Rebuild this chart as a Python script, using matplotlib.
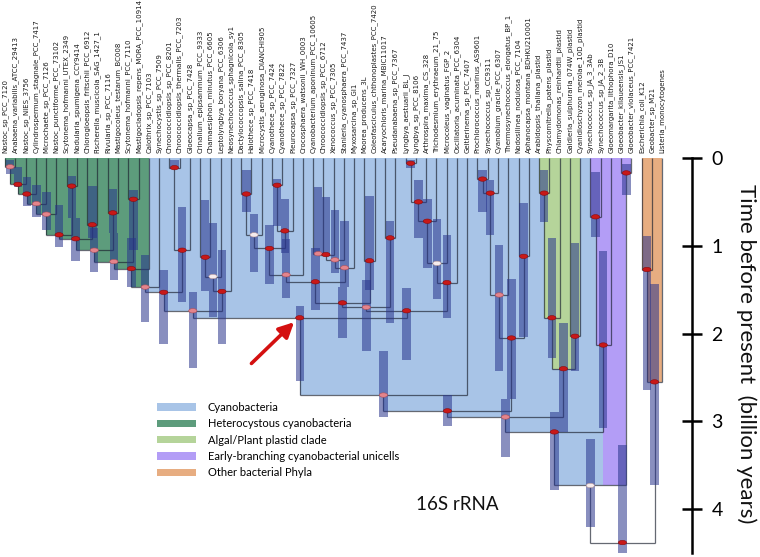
import matplotlib
matplotlib.use("Agg")
import matplotlib.pyplot as plt
from matplotlib.patches import Rectangle, Ellipse, Patch

plt.rcParams['font.family'] = ['Lato', 'DejaVu Sans']

# tips, left to right
taxa = [
    'Nostoc_sp_PCC_7120', 'Anabaena_variabilis_ATCC_29413', 'Nostoc_sp_NIES_3756',
    'Cylindrospermum_stagnale_PCC_7417', 'Microchaete_sp_PCC_7126', 'Nostoc_punctiforme_PCC_73102',
    'Scytonema_hofmanni_UTEX_2349', 'Nodularia_spumigena_CCY9414', 'Chlorogloeopsis_fritschii_PCC_6912',
    'Fischerella_muscicola_SAG_1427_1', 'Rivularia_sp_PCC_7116', 'Mastigocoleus_testarum_BC008',
    'Scytonema_hofmanni_PCC_7110', 'Mastigocladopsis_repens_MORA_PCC_10914', 'Calothrix_sp_PCC_7103',
    'Synechocystis_sp_PCC_7509', 'Chroococcidiopsis_sp_PCC_8201', 'Chroococcidiopsis_thermalis_PCC_7203',
    'Gloeocapsa_sp_PCC_7428', 'Crinalium_epipsammum_PCC_9333', 'Chamaesiphon_minutus_PCC_6605',
    'Leptolyngbya_boryana_PCC_6306', 'Neosynechococcus_sphagnicola_sy1', 'Dactylococcopsis_salina_PCC_8305',
    'Halothece_sp_PCC_7418', 'Microcystis_aeruginosa_DIANCHI905', 'Cyanothece_sp_PCC_7424',
    'Cyanothece_sp_PCC_7822', 'Pleurocapsa_sp_PCC_7327', 'Crocosphaera_watsonii_WH_0003',
    'Cyanobacterium_aponinum_PCC_10605', 'Chroococcidiopsis_sp_PCC_6712', 'Xenococcus_sp_PCC_7305',
    'Stanieria_cyanosphaera_PCC_7437', 'Myxosarcina_sp_GI1', 'Moorea_producens_3L',
    'Coleofasciculus_chthonoplastes_PCC_7420', 'Acaryochloris_marina_MBIC11017', 'Pseudanabaena_sp_PCC_7367',
    'Lyngbya_aestuarii_BL_J', 'Lyngbya_sp_PCC_8106', 'Arthrospira_maxima_CS_328',
    'Trichodesmium_erythraeum_21_75', 'Microcoleus_vaginatus_FGP_2', 'Oscillatoria_acuminata_PCC_6304',
    'Geitlerinema_sp_PCC_7407', 'Prochlorococcus_marinus_AS9601', 'Synechococcus_sp_CC9311',
    'Cyanobium_gracile_PCC_6307', 'Thermosynechococcus_elongatus_BP_1', 'Nodosilinea_nodulosa_PCC_7104',
    'Aphanocapsa_montana_BDHKU210001', 'Arabidopsis_thaliana_plastid', 'Physcomitrella_patens_plastid',
    'Chlamydomonas_reinhardtii_plastid', 'Galdieria_sulphuraria_074W_plastid', 'Cyanidioschyzon_merolae_10D_plastid',
    'Synechococcus_sp_JA_3_3Ab', 'Synechococcus_sp_JA_2_3B', 'Gloeomargarita_lithophora_D10',
    'Gloeobacter_kilaueensis_JS1', 'Gloeobacter_violaceus_PCC_7421', 'Escherichia_coli_K12',
    'Geobacter_sp_M21', 'Listeria_monocytogenes',
]

# internal nodes: name, left child, right child, age (Gyr), 95% HPD low, high, posterior class
nodes = [
    ('h1', 0, 1, 0.10, 0.02, 0.18, 'mid'),
    ('h2', 'h1', 2, 0.30, 0.10, 0.33, 'high'),
    ('h3', 'h2', 3, 0.41, 0.22, 0.55, 'high'),
    ('h4', 'h3', 4, 0.52, 0.31, 0.67, 'mid'),
    ('h5', 'h4', 5, 0.64, 0.39, 0.82, 'mid'),
    ('h6', 6, 7, 0.32, 0.20, 0.68, 'high'),
    ('h7', 'h5', 'h6', 0.875, 0.53, 1.01, 'high'),
    ('h8', 8, 9, 0.76, 0.32, 0.91, 'high'),
    ('h9', 'h7', 'h8', 0.92, 0.68, 1.17, 'high'),
    ('h10', 10, 11, 0.625, 0.35, 0.85, 'high'),
    ('h11', 'h9', 'h10', 1.05, 0.80, 1.30, 'mid'),
    ('h12', 12, 13, 0.47, 0.36, 1.05, 'high'),
    ('h13', 'h11', 'h12', 1.18, 0.85, 1.39, 'mid'),
    ('h14', 'h13', 14, 1.26, 0.91, 1.47, 'high'),
    ('h15', 'h14', 15, 1.47, 1.10, 1.87, 'mid'),
    ('b1', 16, 17, 0.11, 0.02, 0.12, 'high'),
    ('b2', 'b1', 18, 1.05, 0.56, 1.64, 'high'),
    ('b3', 'h15', 'b2', 1.53, 1.27, 2.12, 'high'),
    ('b4', 19, 20, 1.13, 0.48, 1.52, 'high'),
    ('b5', 'b4', 21, 1.35, 0.74, 1.81, 'low'),
    ('b6', 'b5', 22, 1.52, 1.05, 2.12, 'high'),
    ('b7', 'b3', 'b6', 1.74, 1.53, 2.39, 'mid'),
    ('b8', 23, 24, 0.41, 0.14, 0.61, 'high'),
    ('b9', 'b8', 25, 0.875, 0.64, 1.30, 'low'),
    ('b10', 26, 27, 0.31, 0.24, 0.78, 'high'),
    ('b11', 'b10', 28, 0.83, 0.47, 1.08, 'high'),
    ('b12', 'b9', 'b11', 1.03, 0.76, 1.44, 'high'),
    ('b13', 'b12', 29, 1.33, 0.92, 1.60, 'mid'),
    ('b14', 30, 31, 1.09, 0.33, 1.10, 'mid'),
    ('b15', 'b14', 32, 1.10, 0.44, 1.12, 'high'),
    ('b16', 'b15', 33, 1.16, 0.59, 1.31, 'mid'),
    ('b17', 'b16', 34, 1.25, 0.72, 1.47, 'mid'),
    ('b18', 'b13', 'b17', 1.41, 1.03, 1.73, 'high'),
    ('b19', 35, 36, 1.17, 0.43, 1.50, 'high'),
    ('b20', 'b18', 'b19', 1.65, 1.47, 2.05, 'high'),
    ('b21', 37, 38, 0.91, 0.72, 1.88, 'high'),
    ('b22', 'b20', 'b21', 1.70, 1.39, 2.20, 'mid'),
    ('b23', 39, 40, 0.06, 0.02, 0.11, 'high'),
    ('b24', 'b23', 41, 0.50, 0.25, 0.91, 'high'),
    ('b25', 'b24', 42, 0.72, 0.47, 1.25, 'high'),
    ('b26', 'b25', 43, 1.20, 0.70, 1.61, 'low'),
    ('b27', 'b26', 44, 1.42, 0.88, 1.82, 'high'),
    ('b28', 'b22', 'b27', 1.74, 1.48, 2.30, 'high'),
    ('b29', 'b7', 'b28', 1.82, 1.69, 2.54, 'high'),
    ('b30', 'b29', 45, 2.70, 2.20, 2.95, 'mid'),
    ('b31', 46, 47, 0.24, 0.14, 0.61, 'high'),
    ('b32', 'b31', 48, 0.40, 0.25, 0.88, 'high'),
    ('b33', 'b32', 49, 1.56, 0.99, 2.43, 'mid'),
    ('b34', 50, 51, 1.12, 0.51, 2.04, 'high'),
    ('b35', 'b33', 'b34', 2.05, 1.38, 2.75, 'high'),
    ('b36', 'b30', 'b35', 2.88, 2.70, 3.05, 'high'),
    ('p1', 52, 53, 0.40, 0.14, 0.73, 'high'),
    ('p2', 'p1', 54, 1.82, 0.91, 2.28, 'high'),
    ('p3', 55, 56, 2.03, 0.97, 2.43, 'high'),
    ('p4', 'p2', 'p3', 2.40, 1.88, 3.12, 'high'),
    ('b37', 'b36', 'p4', 2.95, 2.75, 3.40, 'mid'),
    ('e1', 57, 58, 0.67, 0.16, 0.90, 'high'),
    ('e2', 'e1', 59, 2.13, 1.06, 3.07, 'high'),
    ('b38', 'b37', 'e2', 3.12, 2.89, 3.78, 'high'),
    ('e3', 60, 61, 0.17, 0.07, 0.42, 'high'),
    ('c0', 'b38', 'e3', 3.73, 3.20, 4.20, 'low'),
    ('o1', 62, 63, 1.27, 0.89, 2.64, 'high'),
    ('o2', 'o1', 64, 2.55, 1.44, 3.72, 'high'),
    ('root', 'c0', 'o2', 4.38, 3.27, 4.50, 'high'),
]

# shaded groups (node boxes filled with the group colour)
group_names = ['Cyanobacteria', 'Heterocystous cyanobacteria', 'Algal/Plant plastid clade',
               'Early-branching cyanobacterial unicells', 'Other bacterial Phyla']
group_colors = ['#a8c4e7', '#5d9c7c', '#b5d49a', '#b39df6', '#e7ad81']
group_nodes = [
    ['b%d' % i for i in range(1, 39)],
    ['h%d' % i for i in range(1, 15)],
    ['p1', 'p2', 'p3', 'p4'],
    ['e1', 'e2', 'e3'],
    ['o1', 'o2'],
]
# boxes that change colour part way: node -> (left group, split at, right group)
split_boxes = {'h15': (1, 14, 0), 'c0': (0, 'e2', 3)}

support_colors = {'high': ('#c81818', '#8c0a0a'), 'mid': ('#e4848c', '#b05058'),
                  'low': ('#f6eced', '#b89898')}

# ---- layout of the tree
info = {n[0]: n for n in nodes}
xpos = {}


def getx(k):
    if isinstance(k, int):
        return float(k)
    if k not in xpos:
        n = info[k]
        xpos[k] = (getx(n[1]) + getx(n[2])) / 2.0
    return xpos[k]


def getage(k):
    return 0.0 if isinstance(k, int) else info[k][3]


fig = plt.figure(figsize=(7.6, 5.57), dpi=100)
ax = fig.add_axes([0, 0, 1, 1])
ax.set_xlim(-5 / 10.27, 755 / 10.27)
ax.set_ylim((557 - 158) / 87.8, -158 / 87.8)
ax.axis('off')

node_group = {}
for g, lst in enumerate(group_nodes):
    for k in lst:
        node_group[k] = g
for k, v in split_boxes.items():
    node_group[k] = v[0]

# coloured clade boxes, deepest first
for n in sorted(nodes, key=lambda n: -n[3]):
    name = n[0]
    if name not in node_group:
        continue
    xl, xr, age = getx(n[1]), getx(n[2]), n[3]
    if name in split_boxes:
        g1, at, g2 = split_boxes[name]
        xb = getx(at)
        ax.add_patch(Rectangle((xl, 0), xb - xl, age, fc=group_colors[g1], ec='none', zorder=1))
        ax.add_patch(Rectangle((xb, 0), xr - xb, age, fc=group_colors[g2], ec='none', zorder=1))
    else:
        ax.add_patch(Rectangle((xl, 0), xr - xl, age, fc=group_colors[node_group[name]],
                               ec='none', zorder=1))

# branches
for n in nodes:
    age = n[3]
    for c in (n[1], n[2]):
        ax.plot([getx(c), getx(c)], [getage(c), age], color='#1c2230', alpha=0.68,
                lw=0.9, zorder=2, solid_capstyle='butt')
    ax.plot([getx(n[1]), getx(n[2])], [age, age], color='#1c2230', alpha=0.68,
            lw=0.9, zorder=2, solid_capstyle='butt')

# 95% HPD bars
for n in nodes:
    x = getx(n[0])
    ax.add_patch(Rectangle((x - 0.41, n[4]), 0.82, n[5] - n[4], fc='#28348c', alpha=0.55,
                           ec='none', zorder=3))

# node markers
for n in nodes:
    fc, ec = support_colors[n[6]]
    ax.add_patch(Ellipse((getx(n[0]), n[3]), 0.8, 0.05, fc=fc, ec=ec, lw=0.4, zorder=4))

# tip labels
for i, t in enumerate(taxa):
    ax.text(i, -0.06, t, rotation=90, ha='center', va='bottom', fontsize=5,
            family='DejaVu Sans', color='#1a1a1a')

# arrow to the crown node
ax_x, ax_y = getx('b29'), info['b29'][3]
ax.annotate('', xy=(ax_x - 0.55, ax_y + 0.05), xytext=(ax_x - 4.7, ax_y + 0.52),
            arrowprops=dict(arrowstyle='-|>,head_length=0.9,head_width=0.45',
                            color='#d41010', lw=2.6, shrinkA=0, shrinkB=0), zorder=6)

ax.text(44.0, 3.95, '16S rRNA', fontsize=13.5, ha='center', va='center', color='#111111')

handles = [Patch(fc=c, ec='none') for c in group_colors]
ax.legend(handles, group_names, loc='upper left', bbox_to_anchor=(157 / 760, 1 - 402 / 557),
          frameon=False, fontsize=8, handlelength=3.5, handleheight=0.65,
          handletextpad=1.05, labelspacing=0.48, borderpad=0, borderaxespad=0)

# time scale
sax = fig.add_axes([692 / 760, 0, 1e-4, 1])
sax.set_ylim(ax.get_ylim())
sax.patch.set_visible(False)
for s in ('top', 'right', 'bottom'):
    sax.spines[s].set_visible(False)
sax.spines['left'].set_linewidth(1.8)
sax.spines['left'].set_bounds(0, 4.5)
sax.set_xticks([])
sax.set_yticks([0, 1, 2, 3, 4])
sax.tick_params(axis='y', direction='inout', length=14, width=1.8, left=True, right=False,
                labelleft=False, labelright=True, labelsize=14, pad=7)
fig.text(746 / 760, 1 - 354 / 557, 'Time before present  (billion years)', rotation=270,
         ha='center', va='center', fontsize=16, color='#111111')

fig.savefig('out.png', dpi=100)
